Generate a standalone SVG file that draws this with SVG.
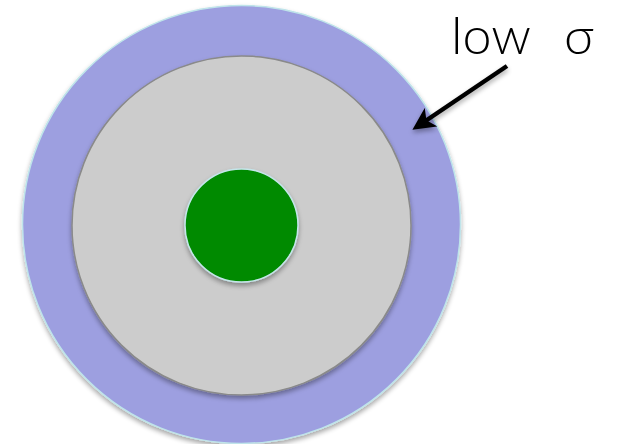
<svg xmlns="http://www.w3.org/2000/svg" width="618" height="444" viewBox="0 0 618 444">
<defs>
<filter id="sh" x="-20%" y="-20%" width="140%" height="140%">
<feGaussianBlur in="SourceAlpha" stdDeviation="2.5"/>
<feOffset dx="0" dy="3" result="b"/>
<feComponentTransfer><feFuncA type="linear" slope="0.35"/></feComponentTransfer>
<feMerge><feMergeNode/><feMergeNode in="SourceGraphic"/></feMerge>
</filter>
<marker id="ah" viewBox="0 0 10 10" refX="7" refY="5" markerWidth="5" markerHeight="5" orient="auto">
<path d="M0,0 L10,5 L0,10 L2.5,5 z" fill="#000"/>
</marker>
<style>
.lbl{font-family:"Lato","Noto Sans",sans-serif;font-weight:300;font-size:52px;fill:#000}
</style>
</defs>
<rect width="618" height="444" fill="#fff"/>
<g id="outer"><circle cx="241.5" cy="224.5" r="219" fill="#9d9fe0" stroke="#bfe4ea" stroke-width="1.5" filter="url(#sh)"/></g>
<g id="middle"><circle cx="241.5" cy="225.5" r="169.5" fill="#cccccc" stroke="#8a8a8a" stroke-width="1.5" filter="url(#sh)"/></g>
<g id="inner"><circle cx="241.5" cy="225.5" r="56.5" fill="#008a00" stroke="#c4e6ea" stroke-width="1.5" filter="url(#sh)"/></g>
<g id="label"><text class="lbl" x="451" y="54">low <tspan x="564">σ</tspan></text></g>
<g id="connectors"><line x1="507" y1="66" x2="418" y2="126" stroke="#000" stroke-width="4.5" marker-end="url(#ah)" filter="url(#sh)"/></g>
</svg>
